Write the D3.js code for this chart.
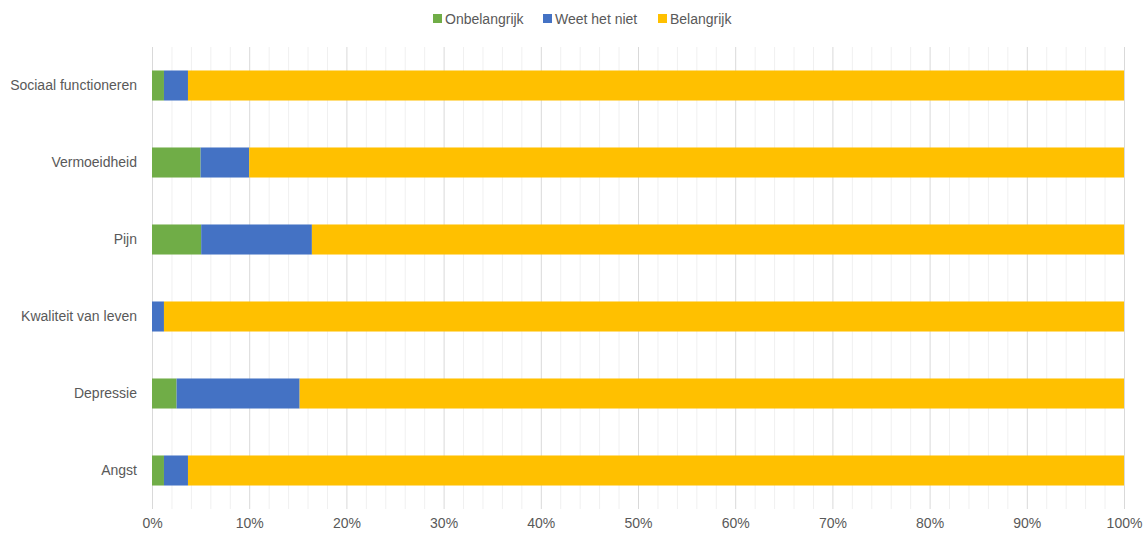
<!DOCTYPE html>
<html>
<head>
<meta charset="utf-8">
<script src="https://cdn.jsdelivr.net/npm/d3@7"></script>
<style>
  html, body { margin: 0; padding: 0; background: #fff; }
  svg { display: block; }
  text { font-family: "Liberation Sans", "DejaVu Sans", sans-serif; fill: #595959; }
</style>
</head>
<body>
<svg id="chart" width="1144" height="535"></svg>
<script>
// Categories, top to bottom
const categories = ["Sociaal functioneren", "Vermoeidheid", "Pijn", "Kwaliteit van leven", "Depressie", "Angst"];
// Share of responses (%) per answer
const onbelangrijk = [1.23, 5.00, 5.06, 0.00, 2.53, 1.23];
const weetHetNiet  = [2.47, 5.00, 11.39, 1.23, 12.66, 2.47];
const belangrijk   = [96.30, 90.00, 83.55, 98.77, 84.81, 96.30];
const seriesNames  = ["Onbelangrijk", "Weet het niet", "Belangrijk"];
const seriesColors = ["#70ad47", "#4472c4", "#ffc000"];
const xTicks = [0, 10, 20, 30, 40, 50, 60, 70, 80, 90, 100];

const svg = d3.select("#chart");
const plot = { left: 152, right: 1124, top: 47, bottom: 509 };

const x = d3.scaleLinear().domain([0, 100]).range([plot.left, plot.right]);
const y = d3.scaleBand().domain(categories).range([plot.top, plot.bottom]).paddingInner(0.61).paddingOuter(0.305);

// Minor gridlines every 2%
svg.append("g").selectAll("line")
  .data(d3.range(2, 100, 2).filter(v => v % 10 !== 0))
  .join("line")
  .attr("x1", d => x(d) + 0.5).attr("x2", d => x(d) + 0.5)
  .attr("y1", plot.top).attr("y2", plot.bottom)
  .attr("stroke", "#f0f0f0").attr("stroke-width", 1);

// Major gridlines every 10%
svg.append("g").selectAll("line")
  .data(xTicks)
  .join("line")
  .attr("x1", d => x(d) + 0.5).attr("x2", d => x(d) + 0.5)
  .attr("y1", plot.top).attr("y2", plot.bottom)
  .attr("stroke", "#d9d9d9").attr("stroke-width", 1);

// Stacked bars
const rows = categories.map((c, i) => ({ cat: c, Onbelangrijk: onbelangrijk[i], "Weet het niet": weetHetNiet[i], Belangrijk: belangrijk[i] }));
const stack = d3.stack().keys(seriesNames)(rows);

svg.append("g").selectAll("g")
  .data(stack)
  .join("g")
  .attr("fill", (d, i) => seriesColors[i])
  .selectAll("rect")
  .data(d => d)
  .join("rect")
  .attr("x", d => x(d[0]))
  .attr("width", d => Math.max(0, x(d[1]) - x(d[0])))
  .attr("y", d => y(d.data.cat))
  .attr("height", y.bandwidth());

// Category axis
const yAxis = svg.append("g")
  .attr("transform", `translate(${plot.left},0)`)
  .call(d3.axisLeft(y).tickSize(0).tickPadding(15));
yAxis.select(".domain").remove();
yAxis.selectAll("text").attr("font-size", 14).style("fill", "#595959");

// Value axis
const xAxis = svg.append("g")
  .attr("transform", `translate(0,${plot.bottom})`)
  .call(d3.axisBottom(x).tickValues(xTicks).tickSize(0).tickPadding(9).tickFormat(d => d + "%"));
xAxis.select(".domain").remove();
xAxis.selectAll("text").attr("font-size", 14).style("fill", "#595959");

// Legend
const legendX = [433, 543, 658];
const legend = svg.append("g").selectAll("g")
  .data(seriesNames)
  .join("g")
  .attr("transform", (d, i) => `translate(${legendX[i]},19)`);
legend.append("rect")
  .attr("x", 0).attr("y", -5).attr("width", 9).attr("height", 9)
  .attr("fill", (d, i) => seriesColors[i]);
legend.append("text")
  .attr("x", 12).attr("y", 0).attr("dy", "0.35em")
  .attr("font-size", 14)
  .text(d => d);
</script>
</body>
</html>
